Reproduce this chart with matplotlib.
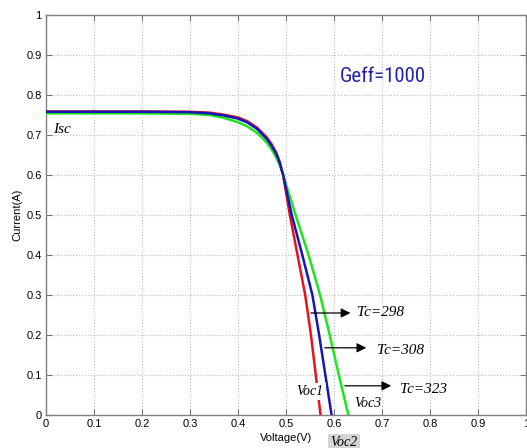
import matplotlib
matplotlib.use("Agg")
import matplotlib.pyplot as plt
from matplotlib import font_manager

# I-V curves of a PV cell at Geff=1000 for three cell temperatures
v_298 = [0.0, 0.10, 0.20, 0.30, 0.34, 0.37, 0.40, 0.42, 0.44, 0.46, 0.47, 0.48, 0.487, 0.494,
         0.508, 0.524, 0.540, 0.552, 0.562, 0.572]
i_298 = [0.759, 0.759, 0.759, 0.758, 0.756, 0.751, 0.744, 0.734, 0.718, 0.694, 0.677, 0.655, 0.632, 0.600,
         0.500, 0.400, 0.300, 0.200, 0.100, 0.0]

v_308 = [0.0, 0.10, 0.20, 0.30, 0.34, 0.37, 0.40, 0.42, 0.44, 0.46, 0.47, 0.48, 0.487, 0.494,
         0.512, 0.534, 0.555, 0.569, 0.582, 0.595]
i_308 = [0.758, 0.758, 0.758, 0.757, 0.754, 0.749, 0.741, 0.731, 0.715, 0.690, 0.673, 0.652, 0.630, 0.600,
         0.500, 0.400, 0.300, 0.200, 0.100, 0.0]

v_323 = [0.0, 0.10, 0.20, 0.30, 0.34, 0.37, 0.40, 0.42, 0.44, 0.46, 0.47, 0.48, 0.487, 0.494,
         0.520, 0.547, 0.571, 0.591, 0.610, 0.630]
i_323 = [0.754, 0.754, 0.754, 0.753, 0.750, 0.743, 0.732, 0.721, 0.705, 0.681, 0.664, 0.643, 0.625, 0.600,
         0.500, 0.400, 0.300, 0.200, 0.100, 0.0]

ticks = [0, 0.1, 0.2, 0.3, 0.4, 0.5, 0.6, 0.7, 0.8, 0.9, 1]
tick_labels = ["0", "0.1", "0.2", "0.3", "0.4", "0.5", "0.6", "0.7", "0.8", "0.9", "1"]

# pick a narrow face for the Geff label if one is around
installed = {f.name for f in font_manager.fontManager.ttflist}
narrow = [n for n in ["Roboto Condensed", "Liberation Sans Narrow", "Open Sans Condensed",
                      "DejaVu Sans Condensed"] if n in installed]
geff_family = narrow[0] if narrow else "DejaVu Sans"
geff_size = 15 if narrow else 12

fig = plt.figure(figsize=(5.27, 4.48), dpi=100)
ax = fig.add_axes([46 / 527, 33 / 448, 480 / 527, 400 / 448])

ax.plot(v_298, i_298, color="#e3141c", lw=1.8, zorder=3)
ax.plot(v_323, i_323, color="#1ee61e", lw=1.8, zorder=3)
ax.plot(v_308, i_308, color="#1616b8", lw=1.8, zorder=3)

ax.set_xlim(0, 1)
ax.set_ylim(0, 1)
ax.set_xticks(ticks)
ax.set_yticks(ticks)
ax.set_xticklabels(tick_labels, fontsize=8, family="Liberation Sans")
ax.set_yticklabels(tick_labels, fontsize=8, family="Liberation Sans")
ax.tick_params(direction="in", top=True, right=True, length=4, width=0.8, color="#777777", pad=3)
ax.grid(True, ls=":", color="#bdbdbd", lw=0.8)
for s in ax.spines.values():
    s.set_color("#808080")
    s.set_linewidth(1.0)

ax.set_xlabel("Voltage(V)", fontsize=8, family="Liberation Sans", labelpad=3)
ax.set_ylabel("Current(A)", fontsize=8, family="Liberation Sans", labelpad=3)

# annotations
ax.text(0.702, 0.845, "Geff=1000", color="#2323a8", fontsize=geff_size, ha="center", va="center",
        family=geff_family)
serif = dict(family="Liberation Serif", style="italic", fontsize=10)
ax.text(0.015, 0.715, "Isc", ha="left", va="center", family="Liberation Serif",
        style="italic", fontsize=11)

arrow = dict(arrowstyle="-|>", color="black", lw=0.9, mutation_scale=14)
ax.annotate("", xy=(0.640, 0.255), xytext=(0.546, 0.255), arrowprops=arrow)
ax.annotate("", xy=(0.673, 0.168), xytext=(0.575, 0.168), arrowprops=arrow)
ax.annotate("", xy=(0.725, 0.073), xytext=(0.617, 0.073), arrowprops=arrow)
ax.text(0.648, 0.255, "Tc=298", ha="left", va="center", family="Liberation Serif",
        style="italic", fontsize=11)
ax.text(0.690, 0.160, "Tc=308", ha="left", va="center", family="Liberation Serif",
        style="italic", fontsize=11)
ax.text(0.737, 0.065, "Tc=323", ha="left", va="center", family="Liberation Serif",
        style="italic", fontsize=11)

ax.text(0.550, 0.058, "Voc1", ha="center", va="center", zorder=4,
        bbox=dict(facecolor="white", edgecolor="none", pad=1.5), **serif)
ax.text(0.671, 0.030, "Voc3", ha="center", va="center", zorder=4, **serif)
ax.text(0.621, -0.068, "Voc2", ha="center", va="center", clip_on=False,
        bbox=dict(facecolor="#d4d4d4", edgecolor="none", pad=1.5), **serif)

fig.savefig("out.png", dpi=100)
